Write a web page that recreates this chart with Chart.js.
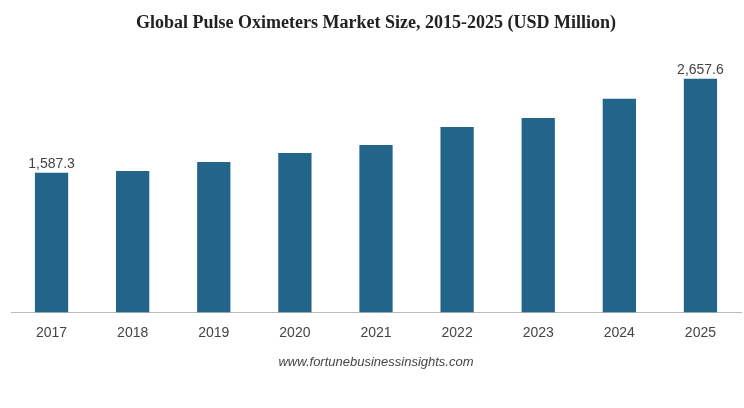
<!DOCTYPE html>
<html><head><meta charset="utf-8">
<script src="https://cdn.jsdelivr.net/npm/chart.js@4"></script>
<style>body{margin:0;background:#fff}</style>
</head><body>
<canvas id="c" width="744" height="408"></canvas>
<script>
const years = ['2017','2018','2019','2020','2021','2022','2023','2024','2025'];
const marketSize = [1587.3, 1608, 1710, 1813, 1904, 2109, 2212, 2429, 2657.6];
const labelled = [0, 8];

const valueLabels = {
  id: 'valueLabels',
  afterDatasetsDraw(chart) {
    const ctx = chart.ctx;
    const meta = chart.getDatasetMeta(0);
    ctx.save();
    ctx.font = '14px "Liberation Sans", Arial';
    ctx.fillStyle = '#444';
    ctx.textAlign = 'center';
    ctx.textBaseline = 'bottom';
    labelled.forEach(i => {
      const bar = meta.data[i];
      ctx.fillText(marketSize[i].toLocaleString('en-US', { minimumFractionDigits: 1 }), bar.x, bar.y - 2);
    });
    ctx.restore();
  }
};

new Chart(document.getElementById('c'), {
  type: 'bar',
  data: {
    labels: years,
    datasets: [{ data: marketSize, backgroundColor: '#23648a', categoryPercentage: 1, barPercentage: 0.41 }]
  },
  options: {
    responsive: false,
    animation: false,
    layout: { padding: { left: 11, right: 3, top: 0, bottom: 38 } },
    plugins: {
      legend: { display: false },
      tooltip: { enabled: false },
      title: {
        display: true,
        text: 'Global Pulse Oximeters Market Size, 2015-2025 (USD Million)',
        font: { family: '"Liberation Serif", serif', size: 18, weight: 'bold' },
        color: '#222',
        padding: { top: 13, bottom: 28 }
      },
      subtitle: {
        display: true,
        position: 'bottom',
        text: 'www.fortunebusinessinsights.com',
        font: { family: '"Liberation Sans", Arial', size: 13, style: 'italic' },
        color: '#444',
        padding: { top: 1, bottom: 0 }
      }
    },
    scales: {
      x: {
        grid: { display: false, drawTicks: false },
        border: { color: '#bbb' },
        ticks: { color: '#444', font: { family: '"Liberation Sans", Arial', size: 14 }, padding: 12 }
      },
      y: { display: false, min: 0, max: 2840 }
    }
  },
  plugins: [valueLabels]
});
</script>
</body></html>
